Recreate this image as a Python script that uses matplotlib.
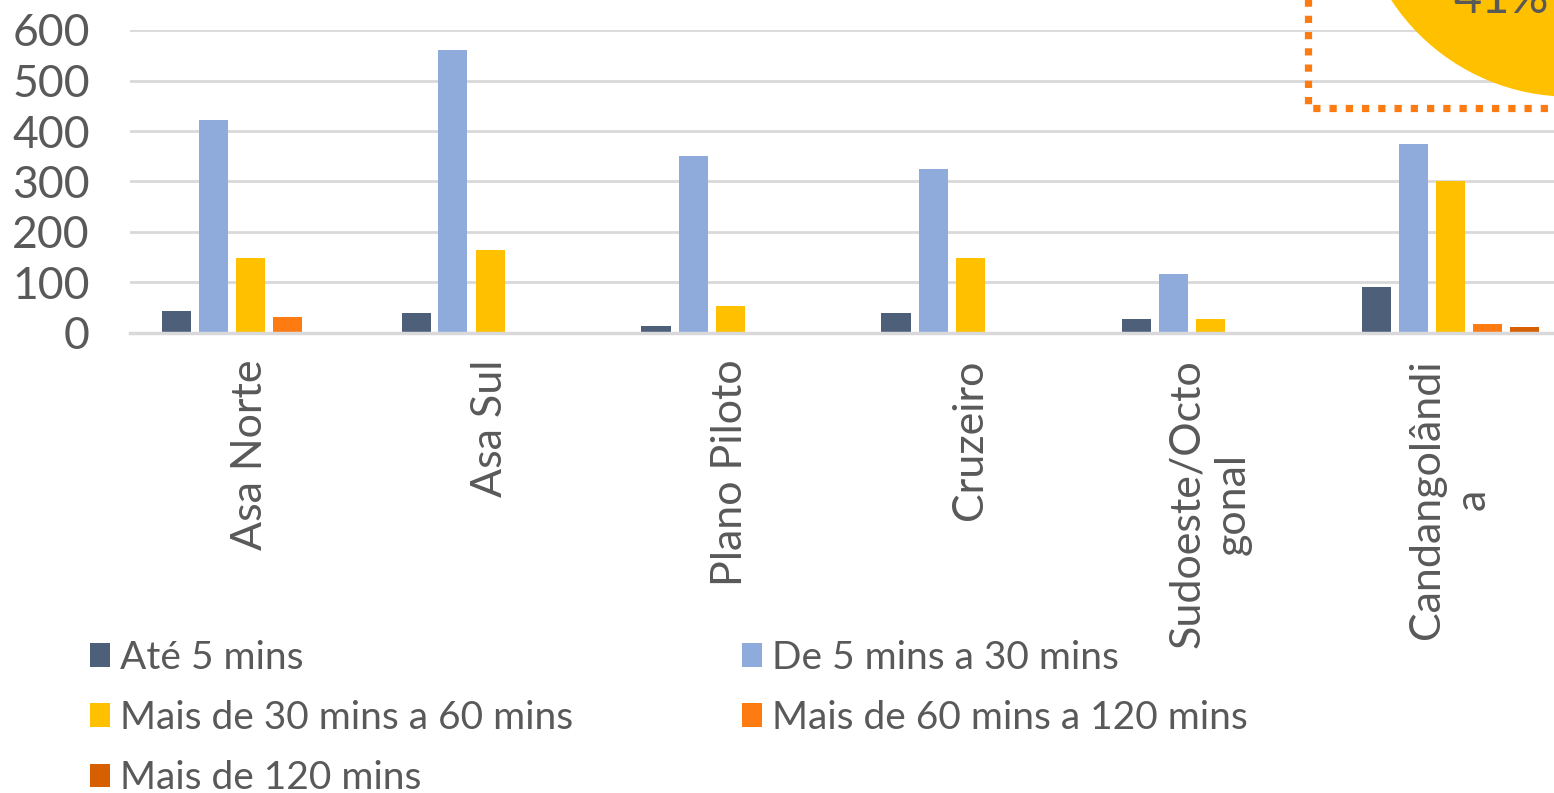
import matplotlib
matplotlib.use("Agg")
import matplotlib.pyplot as plt
import numpy as np
from matplotlib.patches import Patch, Circle

plt.rcParams['font.family'] = ['Lato', 'DejaVu Sans']

categories = ["Asa Norte", "Asa Sul", "Plano Piloto", "Cruzeiro",
              "Sudoeste/Octo\ngonal", "Candangolândi\na"]
series_names = ["Até 5 mins", "De 5 mins a 30 mins", "Mais de 30 mins a 60 mins",
                "Mais de 60 mins a 120 mins", "Mais de 120 mins"]
ate5 = [44, 40, 14, 40, 28, 91]
de5a30 = [422, 560, 350, 325, 117, 374]
de30a60 = [148, 164, 53, 148, 28, 301]
de60a120 = [32, 0, 0, 0, 0, 18]
mais120 = [0, 0, 0, 0, 0, 12]
yticks = [0, 100, 200, 300, 400, 500, 600]
callout_text = "41%"

series = [ate5, de5a30, de30a60, de60a120, mais120]
colors = ["#4e5f7a", "#8fabdc", "#ffc000", "#fd7b10", "#d65f00"]
text_color = "#595959"

W, H = 1554, 793
fig = plt.figure(figsize=(W / 100, H / 100), dpi=100)
ax = fig.add_axes([130 / W, (H - 333) / H, 1440 / W, 303 / H])

x = np.arange(len(categories)) + 0.5
step = 37 / 240
width = 29 / 240
handles = []
for i, (vals, c, name) in enumerate(zip(series, colors, series_names)):
    ax.bar(x + (i - 2) * step, vals, width=width, color=c, zorder=3, label=name)
    handles.append(Patch(facecolor=c, label=name))

ax.set_xlim(0, len(categories))
ax.set_ylim(0, 600)
ax.set_yticks(yticks)
ax.set_yticklabels([str(v) for v in yticks], fontsize=32, color=text_color)
ax.set_xticks(x)
ax.set_xticklabels(categories, rotation=90, fontsize=31, color=text_color,
                   ha='center', va='top', multialignment='center', linespacing=1.25)
ax.tick_params(axis='both', length=0)
ax.tick_params(axis='y', pad=29)
ax.tick_params(axis='x', pad=19)
ax.grid(axis='y', color='#d9d9d9', linewidth=2, zorder=0)
for s in ['top', 'right', 'left']:
    ax.spines[s].set_visible(False)
ax.spines['bottom'].set_color('#d9d9d9')
ax.spines['bottom'].set_linewidth(2.5)
ax.spines['bottom'].set_zorder(4)

# legend (row-wise order in two columns)
fs = 28
leg_kw = dict(frameon=False, fontsize=fs, handlelength=0.51, handleheight=0.57,
              handletextpad=0.25, labelspacing=0.62, borderpad=0, borderaxespad=0,
              labelcolor=text_color, loc='upper left')
leg1 = fig.legend(handles=[handles[0], handles[2], handles[4]],
                  bbox_to_anchor=(90 / W, 1 - 640 / H), **leg_kw)
leg2 = fig.legend(handles=[handles[1], handles[3]],
                  bbox_to_anchor=(742 / W, 1 - 640 / H), **leg_kw)

# overlay: callout circle and dotted frame at top right
ov = fig.add_axes([0, 0, 1, 1], zorder=10)
ov.set_xlim(0, W)
ov.set_ylim(H, 0)
ov.axis('off')
ov.patch.set_alpha(0)
ov.add_patch(Circle((1570, -117), 213, color='#ffc000', zorder=1))
ov.plot([1308, 1308, 1560], [-5, 108, 108], color='#fd7b10', linewidth=5.2,
        linestyle=(0, (1, 1.25)), dash_capstyle='butt', zorder=2)
ov.text(1501, 13, callout_text, fontsize=35, color=text_color, ha='center',
        va='baseline', zorder=3)

fig.savefig("out.png", dpi=100)
